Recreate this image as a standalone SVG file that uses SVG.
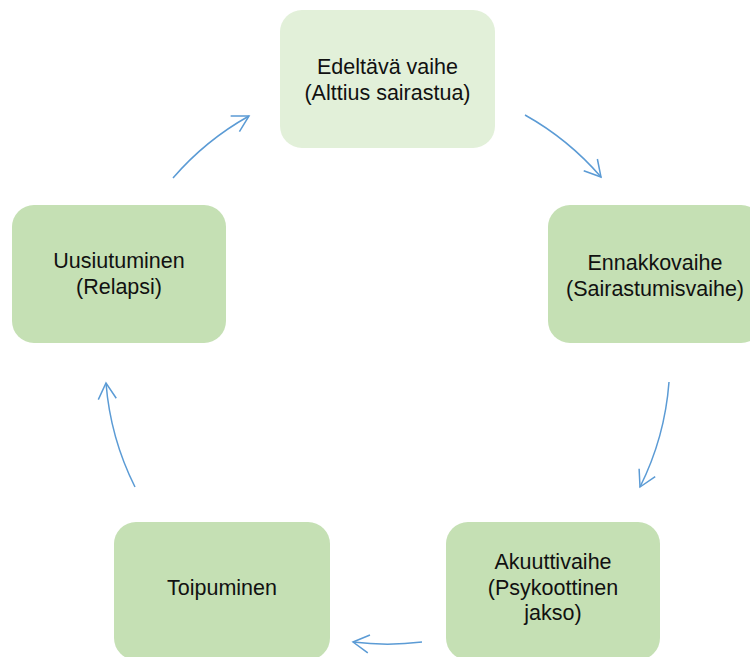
<svg xmlns="http://www.w3.org/2000/svg" width="750" height="657" viewBox="0 0 750 657">
  <style>
    .node { fill: #C5E0B4; }
    .node.light { fill: #E2F0D9; }
    .label { font-family: "Liberation Sans", Arial, sans-serif; font-size: 21.5px; fill: #111; text-anchor: middle; }
    .conn { fill: none; stroke: #5B9BD5; stroke-width: 1.5; }
  </style>
  <defs>
    <marker id="arrow" markerUnits="userSpaceOnUse" markerWidth="24" markerHeight="24" viewBox="-20 -12 24 24" refX="0" refY="0" orient="auto">
      <path d="M-16,-9 L0,0 L-16,9" fill="none" stroke="#5B9BD5" stroke-width="1.5" stroke-linejoin="miter"/>
    </marker>
  </defs>
  <rect width="750" height="657" fill="#FFFFFF"/>

  <g id="node-edeltava">
    <rect class="node light" x="280" y="10" width="215" height="138" rx="22" ry="22"/>
    <text class="label" x="387.5" y="74">Edeltävä vaihe</text>
    <text class="label" x="387.5" y="99.5">(Alttius sairastua)</text>
  </g>

  <g id="node-ennakkovaihe">
    <rect class="node" x="548" y="205" width="215" height="138" rx="22" ry="22"/>
    <text class="label" x="655" y="270">Ennakkovaihe</text>
    <text class="label" x="655" y="295.5">(Sairastumisvaihe)</text>
  </g>

  <g id="node-akuuttivaihe">
    <rect class="node" x="446" y="522" width="214" height="138" rx="22" ry="22"/>
    <text class="label" x="553" y="569">Akuuttivaihe</text>
    <text class="label" x="553" y="594.5">(Psykoottinen</text>
    <text class="label" x="553" y="620">jakso)</text>
  </g>

  <g id="node-toipuminen">
    <rect class="node" x="114" y="522" width="216" height="138" rx="22" ry="22"/>
    <text class="label" x="222" y="595">Toipuminen</text>
  </g>

  <g id="node-uusiutuminen">
    <rect class="node" x="12" y="205" width="214" height="138" rx="22" ry="22"/>
    <text class="label" x="119" y="268">Uusiutuminen</text>
    <text class="label" x="119" y="293.5">(Relapsi)</text>
  </g>

  <g id="connectors">
    <path class="conn" marker-end="url(#arrow)" d="M525,115 A282,282 0 0 1 601,177"/>
    <path class="conn" marker-end="url(#arrow)" d="M669,382 A282,282 0 0 1 640,487"/>
    <path class="conn" marker-end="url(#arrow)" d="M422,642 A282,282 0 0 1 353,642"/>
    <path class="conn" marker-end="url(#arrow)" d="M135,487 A282,282 0 0 1 106,383"/>
    <path class="conn" marker-end="url(#arrow)" d="M173,178 A282,282 0 0 1 249,116"/>
  </g>
</svg>
